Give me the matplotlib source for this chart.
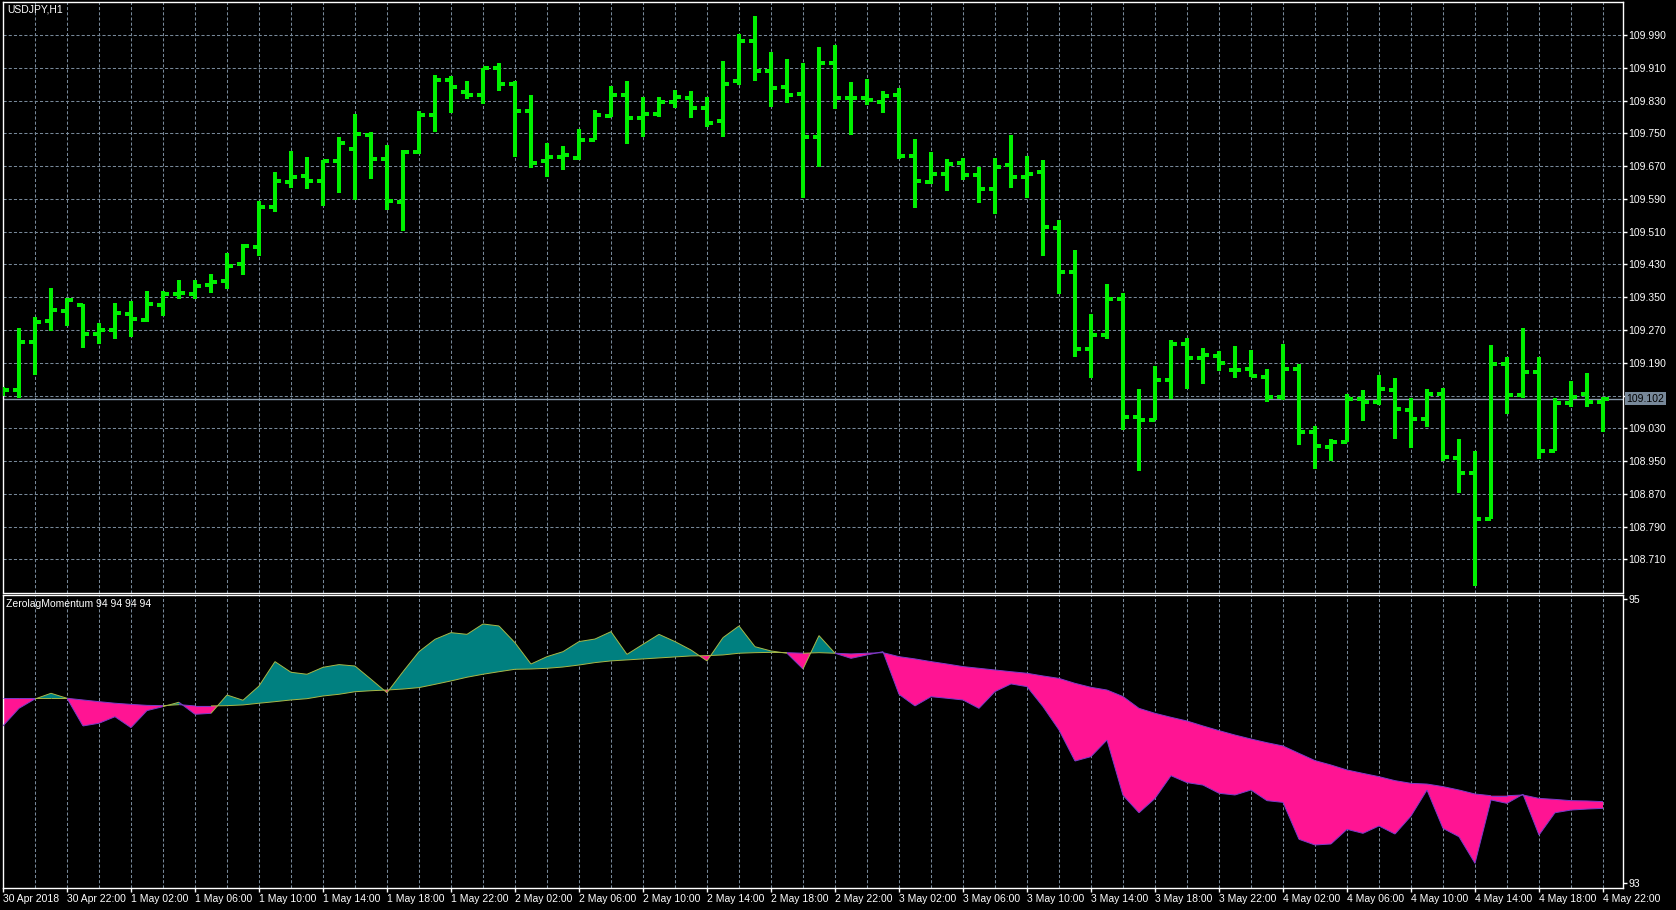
import numpy as np
import matplotlib.pyplot as plt
from matplotlib.collections import LineCollection

# USDJPY H1 bars, 30 Apr 2018 18:00 .. 4 May 2018 22:00
open_ = [109.118, 109.123, 109.241, 109.292, 109.317, 109.330, 109.261, 109.271, 109.310, 109.294,
         109.332, 109.359, 109.358, 109.380, 109.390, 109.432, 109.473, 109.571, 109.632, 109.646,
         109.634, 109.683, 109.712, 109.747, 109.688, 109.583, 109.705, 109.795, 109.881, 109.852,
         109.844, 109.910, 109.871, 109.806, 109.683, 109.693, 109.690, 109.734, 109.793, 109.844,
         109.788, 109.798, 109.827, 109.837, 109.813, 109.781, 109.878, 109.976, 109.903, 109.864,
         109.847, 109.742, 109.922, 109.837, 109.837, 109.827, 109.844, 109.695, 109.632, 109.651,
         109.678, 109.649, 109.615, 109.673, 109.644, 109.656, 109.520, 109.412, 109.224, 109.258,
         109.346, 109.058, 109.051, 109.148, 109.235, 109.202, 109.207, 109.172, 109.174, 109.156,
         109.107, 109.174, 109.021, 108.985, 108.997, 109.102, 109.095, 109.124, 109.075, 109.052,
         109.114, 108.958, 108.921, 108.808, 109.186, 109.111, 109.168, 108.974, 109.092, 109.114,
         109.095]
high = [109.132, 109.276, 109.301, 109.372, 109.347, 109.333, 109.288, 109.336, 109.341, 109.365,
        109.365, 109.392, 109.392, 109.407, 109.457, 109.481, 109.584, 109.657, 109.707, 109.692,
        109.685, 109.741, 109.797, 109.753, 109.723, 109.710, 109.806, 109.892, 109.890, 109.878,
        109.911, 109.922, 109.878, 109.843, 109.726, 109.719, 109.762, 109.807, 109.867, 109.879,
        109.840, 109.840, 109.856, 109.853, 109.838, 109.927, 109.993, 110.036, 109.948, 109.933,
        109.921, 109.960, 109.966, 109.875, 109.884, 109.853, 109.861, 109.736, 109.704, 109.687,
        109.689, 109.669, 109.689, 109.746, 109.695, 109.685, 109.538, 109.465, 109.309, 109.382,
        109.360, 109.125, 109.182, 109.245, 109.250, 109.225, 109.219, 109.231, 109.221, 109.176,
        109.236, 109.187, 109.035, 109.003, 109.114, 109.123, 109.160, 109.154, 109.105, 109.125,
        109.128, 109.003, 108.974, 109.233, 109.205, 109.275, 109.205, 109.105, 109.145, 109.165,
        109.107]
low = [109.110, 109.105, 109.159, 109.268, 109.280, 109.227, 109.236, 109.248, 109.253, 109.290,
       109.304, 109.346, 109.345, 109.361, 109.371, 109.405, 109.451, 109.559, 109.617, 109.615,
       109.573, 109.605, 109.588, 109.639, 109.563, 109.512, 109.699, 109.754, 109.800, 109.834,
       109.822, 109.854, 109.693, 109.666, 109.644, 109.661, 109.685, 109.734, 109.791, 109.725,
       109.742, 109.791, 109.813, 109.788, 109.766, 109.742, 109.869, 109.878, 109.815, 109.825,
       109.593, 109.668, 109.810, 109.747, 109.819, 109.800, 109.687, 109.568, 109.627, 109.610,
       109.637, 109.581, 109.554, 109.617, 109.593, 109.451, 109.358, 109.205, 109.153, 109.249,
       109.027, 108.926, 109.051, 109.101, 109.126, 109.139, 109.170, 109.153, 109.155, 109.095,
       109.099, 108.990, 108.931, 108.949, 108.996, 109.048, 109.088, 109.004, 108.982, 109.034,
       108.951, 108.873, 108.645, 108.808, 109.065, 109.105, 108.956, 108.974, 109.083, 109.083,
       109.020]
close = [109.123, 109.241, 109.290, 109.319, 109.344, 109.261, 109.271, 109.312, 109.297, 109.334,
         109.358, 109.361, 109.378, 109.388, 109.427, 109.476, 109.571, 109.634, 109.644, 109.634,
         109.683, 109.727, 109.749, 109.688, 109.585, 109.705, 109.795, 109.881, 109.864, 109.844,
         109.910, 109.871, 109.806, 109.678, 109.693, 109.698, 109.734, 109.795, 109.844, 109.788,
         109.798, 109.827, 109.839, 109.813, 109.776, 109.871, 109.976, 109.903, 109.861, 109.844,
         109.742, 109.922, 109.837, 109.837, 109.832, 109.842, 109.695, 109.634, 109.651, 109.676,
         109.649, 109.615, 109.668, 109.644, 109.651, 109.522, 109.412, 109.224, 109.258, 109.346,
         109.058, 109.051, 109.148, 109.235, 109.202, 109.210, 109.190, 109.172, 109.158, 109.107,
         109.174, 109.021, 108.987, 108.997, 109.102, 109.095, 109.127, 109.078, 109.052, 109.114,
         108.960, 108.920, 108.808, 109.186, 109.111, 109.168, 108.974, 109.092, 109.107, 109.095,
         109.102]

# ZerolagMomentum: fast and slow lines
fast = [94.108, 94.232, 94.298, 94.338, 94.303, 94.108, 94.127, 94.173, 94.096, 94.216,
        94.244, 94.275, 94.190, 94.197, 94.326, 94.289, 94.389, 94.561, 94.486, 94.472,
        94.521, 94.540, 94.530, 94.437, 94.342, 94.490, 94.631, 94.718, 94.765, 94.753,
        94.826, 94.812, 94.694, 94.544, 94.596, 94.631, 94.702, 94.720, 94.772, 94.612,
        94.683, 94.753, 94.702, 94.643, 94.566, 94.730, 94.812, 94.666, 94.636, 94.620,
        94.509, 94.744, 94.620, 94.584, 94.608, 94.631, 94.331, 94.249, 94.314, 94.303,
        94.291, 94.232, 94.350, 94.404, 94.385, 94.244, 94.080, 93.861, 93.892, 94.009,
        93.620, 93.497, 93.598, 93.758, 93.709, 93.692, 93.634, 93.622, 93.657, 93.582,
        93.570, 93.310, 93.270, 93.277, 93.380, 93.352, 93.404, 93.347, 93.474, 93.657,
        93.387, 93.328, 93.141, 93.587, 93.563, 93.627, 93.340, 93.497, 93.516, 93.523,
        93.528]
slow = [94.303, 94.303, 94.303, 94.303, 94.303, 94.291, 94.279, 94.268, 94.260, 94.253,
        94.251, 94.258, 94.249, 94.249, 94.251, 94.256, 94.268, 94.279, 94.291, 94.300,
        94.319, 94.331, 94.349, 94.356, 94.361, 94.368, 94.378, 94.401, 94.425, 94.451,
        94.472, 94.490, 94.507, 94.509, 94.514, 94.523, 94.537, 94.554, 94.566, 94.573,
        94.580, 94.587, 94.594, 94.601, 94.603, 94.608, 94.620, 94.624, 94.626, 94.624,
        94.620, 94.624, 94.620, 94.615, 94.620, 94.624, 94.596, 94.580, 94.561, 94.544,
        94.526, 94.514, 94.502, 94.490, 94.479, 94.460, 94.443, 94.408, 94.380, 94.361,
        94.315, 94.232, 94.197, 94.169, 94.143, 94.108, 94.075, 94.044, 94.016, 93.990,
        93.967, 93.915, 93.864, 93.833, 93.798, 93.774, 93.751, 93.723, 93.704, 93.699,
        93.681, 93.657, 93.629, 93.617, 93.617, 93.622, 93.598, 93.591, 93.582, 93.580,
        93.575]

price_ticks = [108.710, 108.790, 108.870, 108.950, 109.030, 109.110, 109.190, 109.270, 109.350,
               109.430, 109.510, 109.590, 109.670, 109.750, 109.830, 109.910, 109.990]
last_price = 109.102
time_pos = [0, 4, 8, 12, 16, 20, 24, 28, 32, 36, 40, 44, 48, 52, 56, 60, 64, 68, 72, 76,
            80, 84, 88, 92, 96, 100]
time_labels = ['30 Apr 2018', '30 Apr 22:00', '1 May 02:00', '1 May 06:00', '1 May 10:00',
               '1 May 14:00', '1 May 18:00', '1 May 22:00', '2 May 02:00', '2 May 06:00',
               '2 May 10:00', '2 May 14:00', '2 May 18:00', '2 May 22:00', '3 May 02:00',
               '3 May 06:00', '3 May 10:00', '3 May 14:00', '3 May 18:00', '3 May 22:00',
               '4 May 02:00', '4 May 06:00', '4 May 10:00', '4 May 14:00', '4 May 18:00',
               '4 May 22:00']

plt.rcParams['font.family'] = ['Liberation Sans', 'DejaVu Sans']
grid_c = '#778899'
bar_c = '#00f000'
fs = 7.5

W, H = 1676, 910
fig = plt.figure(figsize=(W / 100, H / 100), dpi=100, facecolor='black')
ax = fig.add_axes([2.5 / W, 1 - 592.5 / H, (1623 - 2.5) / W, (592.5 - 2) / H])
ax2 = fig.add_axes([2.5 / W, 1 - 888.3 / H, (1623 - 2.5) / W, (888.3 - 595) / H])

x = np.arange(len(close))
fast = np.array(fast)
slow = np.array(slow)

for a in (ax, ax2):
    a.set_facecolor('black')
    for s in a.spines.values():
        s.set_color('white')
        s.set_linewidth(1)
    a.set_xlim(-0.03, 101.25)
    for xi in range(2, 101, 2):
        a.axvline(xi, color=grid_c, lw=0.75, ls=(0, (3, 2)), zorder=0)

# main pane
ax.set_ylim(108.629, 110.071)
for p in price_ticks:
    ax.axhline(p, color=grid_c, lw=0.75, ls=(0, (3, 2)), zorder=0)
ax.axhline(last_price, color='#8899aa', lw=1, zorder=1)
ax.vlines(x, low, high, color=bar_c, lw=1.45, antialiased=False, zorder=3)
ax.hlines(open_, x - 0.36, x, color=bar_c, lw=1.45, antialiased=False, zorder=3)
ax.hlines(close, x, x + 0.36, color=bar_c, lw=1.45, antialiased=False, zorder=3)
ax.set_xticks([])
ax.yaxis.tick_right()
ax.set_yticks(price_ticks)
ax.set_yticklabels(['%.3f' % p for p in price_ticks])
ax.tick_params(axis='y', colors='white', length=3, width=1, pad=1, labelsize=fs)
ax.text(1.0022, last_price, '%.3f' % last_price, transform=ax.get_yaxis_transform(),
        ha='left', va='center', fontsize=fs, color='black', zorder=5, clip_on=False,
        bbox=dict(boxstyle='square,pad=0.15', facecolor='#778899', edgecolor='none'))
fig.text(7 / W, 1 - 9.5 / H, 'USDJPY,H1', color='white', fontsize=fs, va='center', ha='left')

# indicator pane
ax2.set_ylim(92.965, 95.030)
ax2.fill_between(x, fast, slow, where=fast >= slow, interpolate=True, color='#008080', lw=0, zorder=2)
ax2.fill_between(x, fast, slow, where=fast <= slow, interpolate=True, color='#ff1493', lw=0, zorder=2)
up = (fast[:-1] + fast[1:]) >= (slow[:-1] + slow[1:])
seg_cols = ['#a8b848' if u else '#7a3cc8' for u in up]
for yv in (fast, slow):
    pts = np.column_stack([x, yv])
    segs = np.stack([pts[:-1], pts[1:]], axis=1)
    ax2.add_collection(LineCollection(segs, colors=seg_cols, linewidths=0.7, zorder=3))
ax2.yaxis.tick_right()
ax2.set_yticks([93, 95])
ax2.set_yticklabels(['93', '95'])
ax2.tick_params(axis='y', colors='white', length=3, width=1, pad=1, labelsize=fs)
ax2.set_xticks(time_pos)
ax2.set_xticklabels(time_labels)
for lab in ax2.get_xticklabels():
    lab.set_ha('left')
ax2.tick_params(axis='x', colors='white', length=3, width=1, pad=1, labelsize=fs)
fig.text(5.5 / W, 1 - 603.7 / H, 'ZerolagMomentum 94 94 94 94', color='white', fontsize=fs,
         va='center', ha='left')

fig.savefig('out.png', dpi=100, facecolor='black')
